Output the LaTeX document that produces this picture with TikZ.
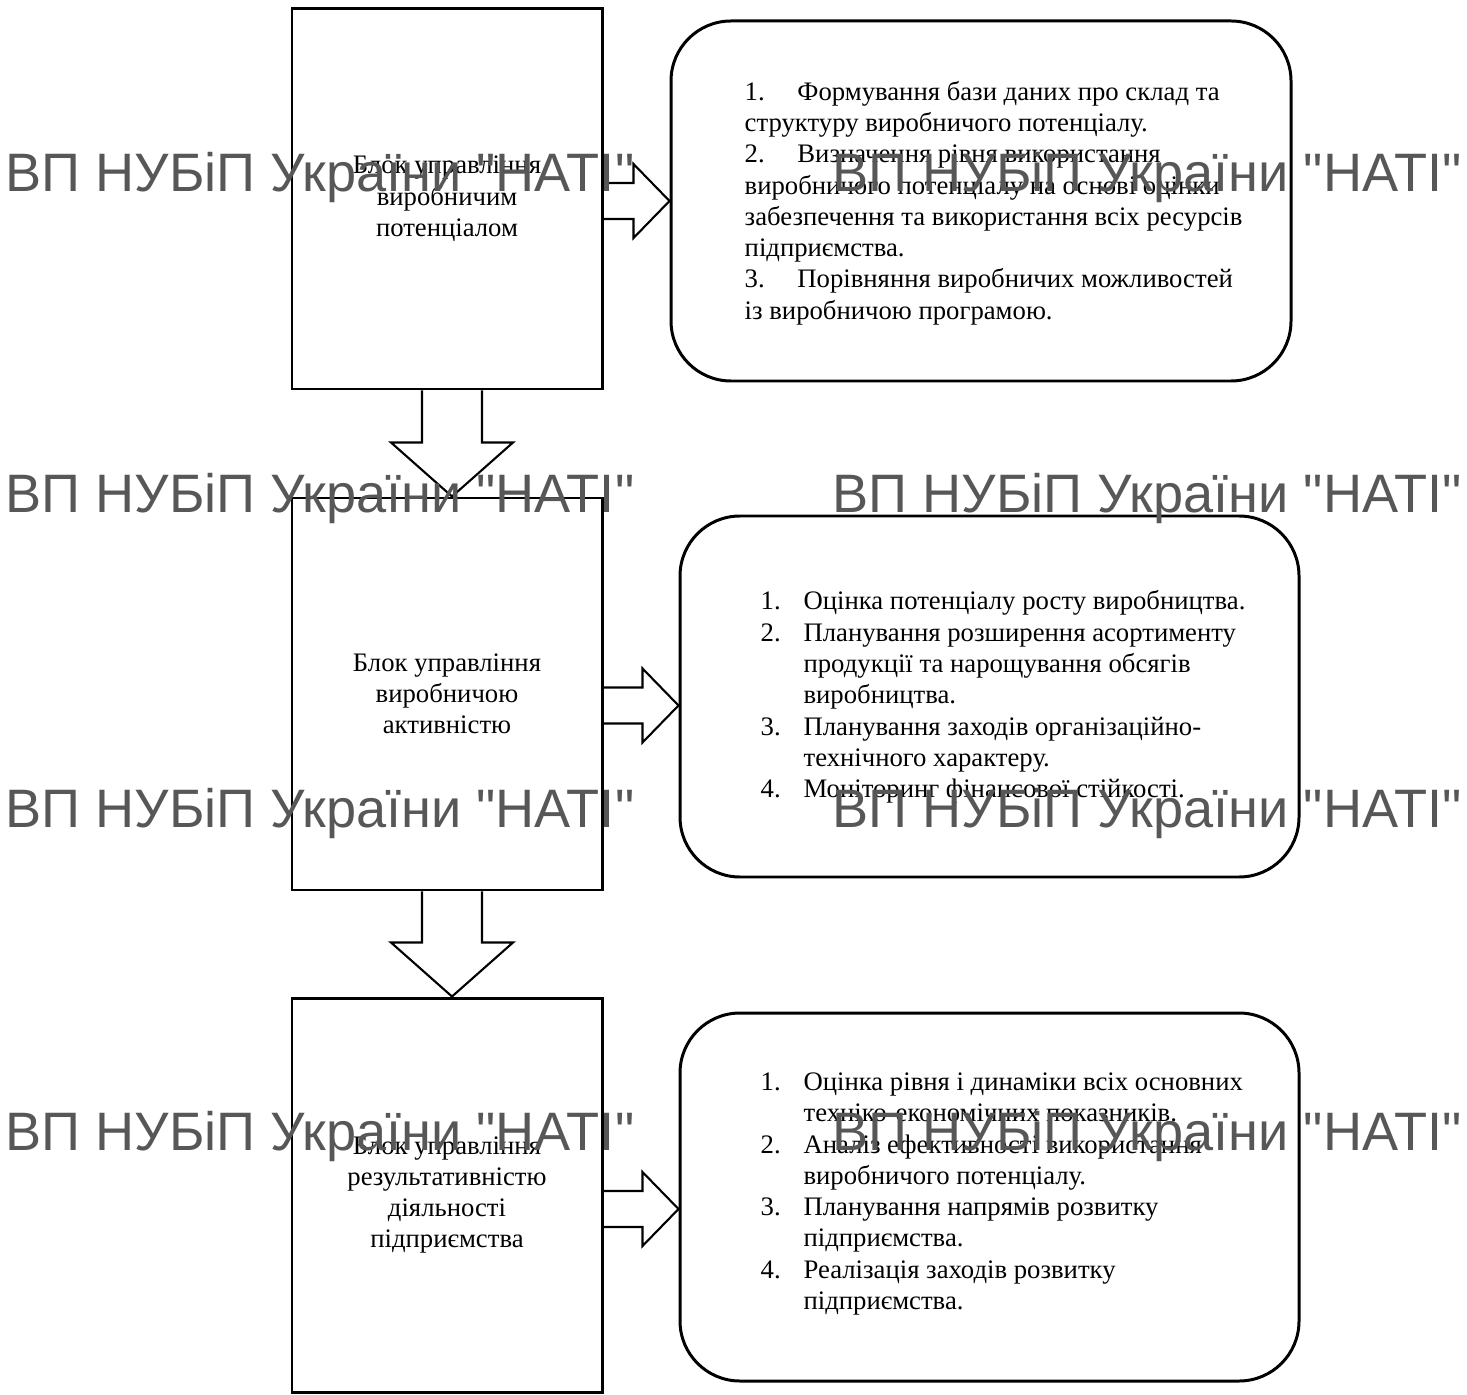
\documentclass[tikz,border=0pt]{standalone}
\usepackage{fontspec}
\setmainfont{Liberation Serif}
\newfontfamily\wmfont{Liberation Sans}
\usetikzlibrary{positioning,calc}
\tikzset{font=\fontsize{7.6}{8.9}\selectfont}
\newcommand{\numlabel}[1]{\makebox[12.2pt][l]{#1}}
\newcommand{\numgap}{\hspace*{12.2pt}}

\begin{document}
\begin{tikzpicture}
	\useasboundingbox (0,0) rectangle (14.67,-13.95);
	\tikzstyle{block}=[draw, line width=0.85pt, minimum width=3.1cm, align=center, inner sep=1pt]
	\tikzstyle{task}=[draw, line width=0.85pt, rounded corners=0.6cm, minimum width=6.19cm, inner sep=0pt]
	\tikzstyle{tasklist}=[anchor=west, align=left, inner sep=0pt]
	\tikzstyle{bigarrow}=[line width=0.6pt, line join=miter]
	\tikzstyle{wmtext}=[font=\wmfont\fontsize{15.4}{18}\selectfont, text=black!66, inner sep=0pt]

	% left column
	\node[block, minimum height=3.8cm] (potential) at (4.47, -1.99) {Блок управління\\виробничим\\потенціалом};
	\node[block, minimum height=3.92cm] (activity) at (4.47, -6.94) {Блок управління\\виробничою\\активністю};
	\node[block, minimum height=3.94cm] (result) at (4.47, -11.95) {Блок управління\\результативністю\\діяльності\\підприємства};

	% right column
	\node[task, minimum width=6.2cm, minimum height=3.6cm] (plan1) at (9.81, -2.01) {};
	\node[task, minimum height=3.61cm] (plan2) at (9.895, -6.965) {};
	\node[task, minimum height=3.68cm] (plan3) at (9.895, -11.97) {};

	\node[tasklist] (list1) at (7.44, -2.03) {\makebox[15pt][l]{1.}Формування бази даних про склад та\\структуру виробничого потенціалу.\\\makebox[15pt][l]{2.}Визначення рівня використання\\виробничого потенціалу на основі оцінки\\забезпечення та використання всіх ресурсів\\підприємства.\\\makebox[15pt][l]{3.}Порівняння виробничих можливостей\\із виробничою програмою.};
	\node[tasklist] (list2) at (7.60, -6.97) {\numlabel{1.}Оцінка потенціалу росту виробництва.\\\numlabel{2.}Планування розширення асортименту\\\numgap продукції та нарощування обсягів\\\numgap виробництва.\\\numlabel{3.}Планування заходів організаційно-\\\numgap технічного характеру.\\\numlabel{4.}Моніторинг фінансової стійкості.};
	\node[tasklist] (list3) at (7.60, -11.94) {\numlabel{1.}Оцінка рівня і динаміки всіх основних\\\numgap техніко-економічних показників.\\\numlabel{2.}Аналіз ефективності використання\\\numgap виробничого потенціалу.\\\numlabel{3.}Планування напрямів розвитку\\\numgap підприємства.\\\numlabel{4.}Реалізація заходів розвитку\\\numgap підприємства.};

	% down arrows
	\coordinate (tipA) at ($(activity.north)+(0.05,0)$);
	\coordinate (tipR) at ($(result.north)+(0.05,0)$);
	\draw[bigarrow] ($(potential.south)+(-0.25,0)$) -- ($(tipA)+(-0.30,0.54)$) -- ($(tipA)+(-0.61,0.54)$) -- (tipA) -- ($(tipA)+(0.61,0.54)$) -- ($(tipA)+(0.30,0.54)$) -- ($(potential.south)+(0.35,0)$);
	\draw[bigarrow] ($(activity.south)+(-0.25,0)$) -- ($(tipR)+(-0.30,0.54)$) -- ($(tipR)+(-0.61,0.54)$) -- (tipR) -- ($(tipR)+(0.61,0.54)$) -- ($(tipR)+(0.30,0.54)$) -- ($(activity.south)+(0.35,0)$);

	% right arrows
	\coordinate (tip1) at (plan1.west);
	\coordinate (tip2) at ($(plan2.west)+(0,-0.09)$);
	\coordinate (tip3) at ($(plan3.west)+(0,-0.12)$);
	\draw[bigarrow] ($(potential.east |- tip1)+(0,0.18)$) -- ($(tip1)+(-0.36,0.18)$) -- ($(tip1)+(-0.36,0.37)$) -- (tip1) -- ($(tip1)+(-0.36,-0.37)$) -- ($(tip1)+(-0.36,-0.18)$) -- ($(potential.east |- tip1)+(0,-0.18)$);
	\draw[bigarrow] ($(activity.east |- tip2)+(0,0.18)$) -- ($(tip2)+(-0.36,0.18)$) -- ($(tip2)+(-0.36,0.37)$) -- (tip2) -- ($(tip2)+(-0.36,-0.37)$) -- ($(tip2)+(-0.36,-0.18)$) -- ($(activity.east |- tip2)+(0,-0.18)$);
	\draw[bigarrow] ($(result.east |- tip3)+(0,0.18)$) -- ($(tip3)+(-0.36,0.18)$) -- ($(tip3)+(-0.36,0.37)$) -- (tip3) -- ($(tip3)+(-0.36,-0.37)$) -- ($(tip3)+(-0.36,-0.18)$) -- ($(result.east |- tip3)+(0,-0.18)$);

	% watermark
	\node[wmtext, anchor=base west] (wm1) at (0.05, -1.92) {ВП НУБіП України "НАТІ"};
	\node[wmtext, anchor=base east] (wm2) at (14.62, -1.92) {ВП НУБіП України "НАТІ"};
	\node[wmtext, anchor=base west] (wm3) at (0.05, -5.12) {ВП НУБіП України "НАТІ"};
	\node[wmtext, anchor=base east] (wm4) at (14.62, -5.12) {ВП НУБіП України "НАТІ"};
	\node[wmtext, anchor=base west] (wm5) at (0.05, -8.27) {ВП НУБіП України "НАТІ"};
	\node[wmtext, anchor=base east] (wm6) at (14.62, -8.27) {ВП НУБіП України "НАТІ"};
	\node[wmtext, anchor=base west] (wm7) at (0.05, -11.50) {ВП НУБіП України "НАТІ"};
	\node[wmtext, anchor=base east] (wm8) at (14.62, -11.50) {ВП НУБіП України "НАТІ"};
\end{tikzpicture}
\end{document}
